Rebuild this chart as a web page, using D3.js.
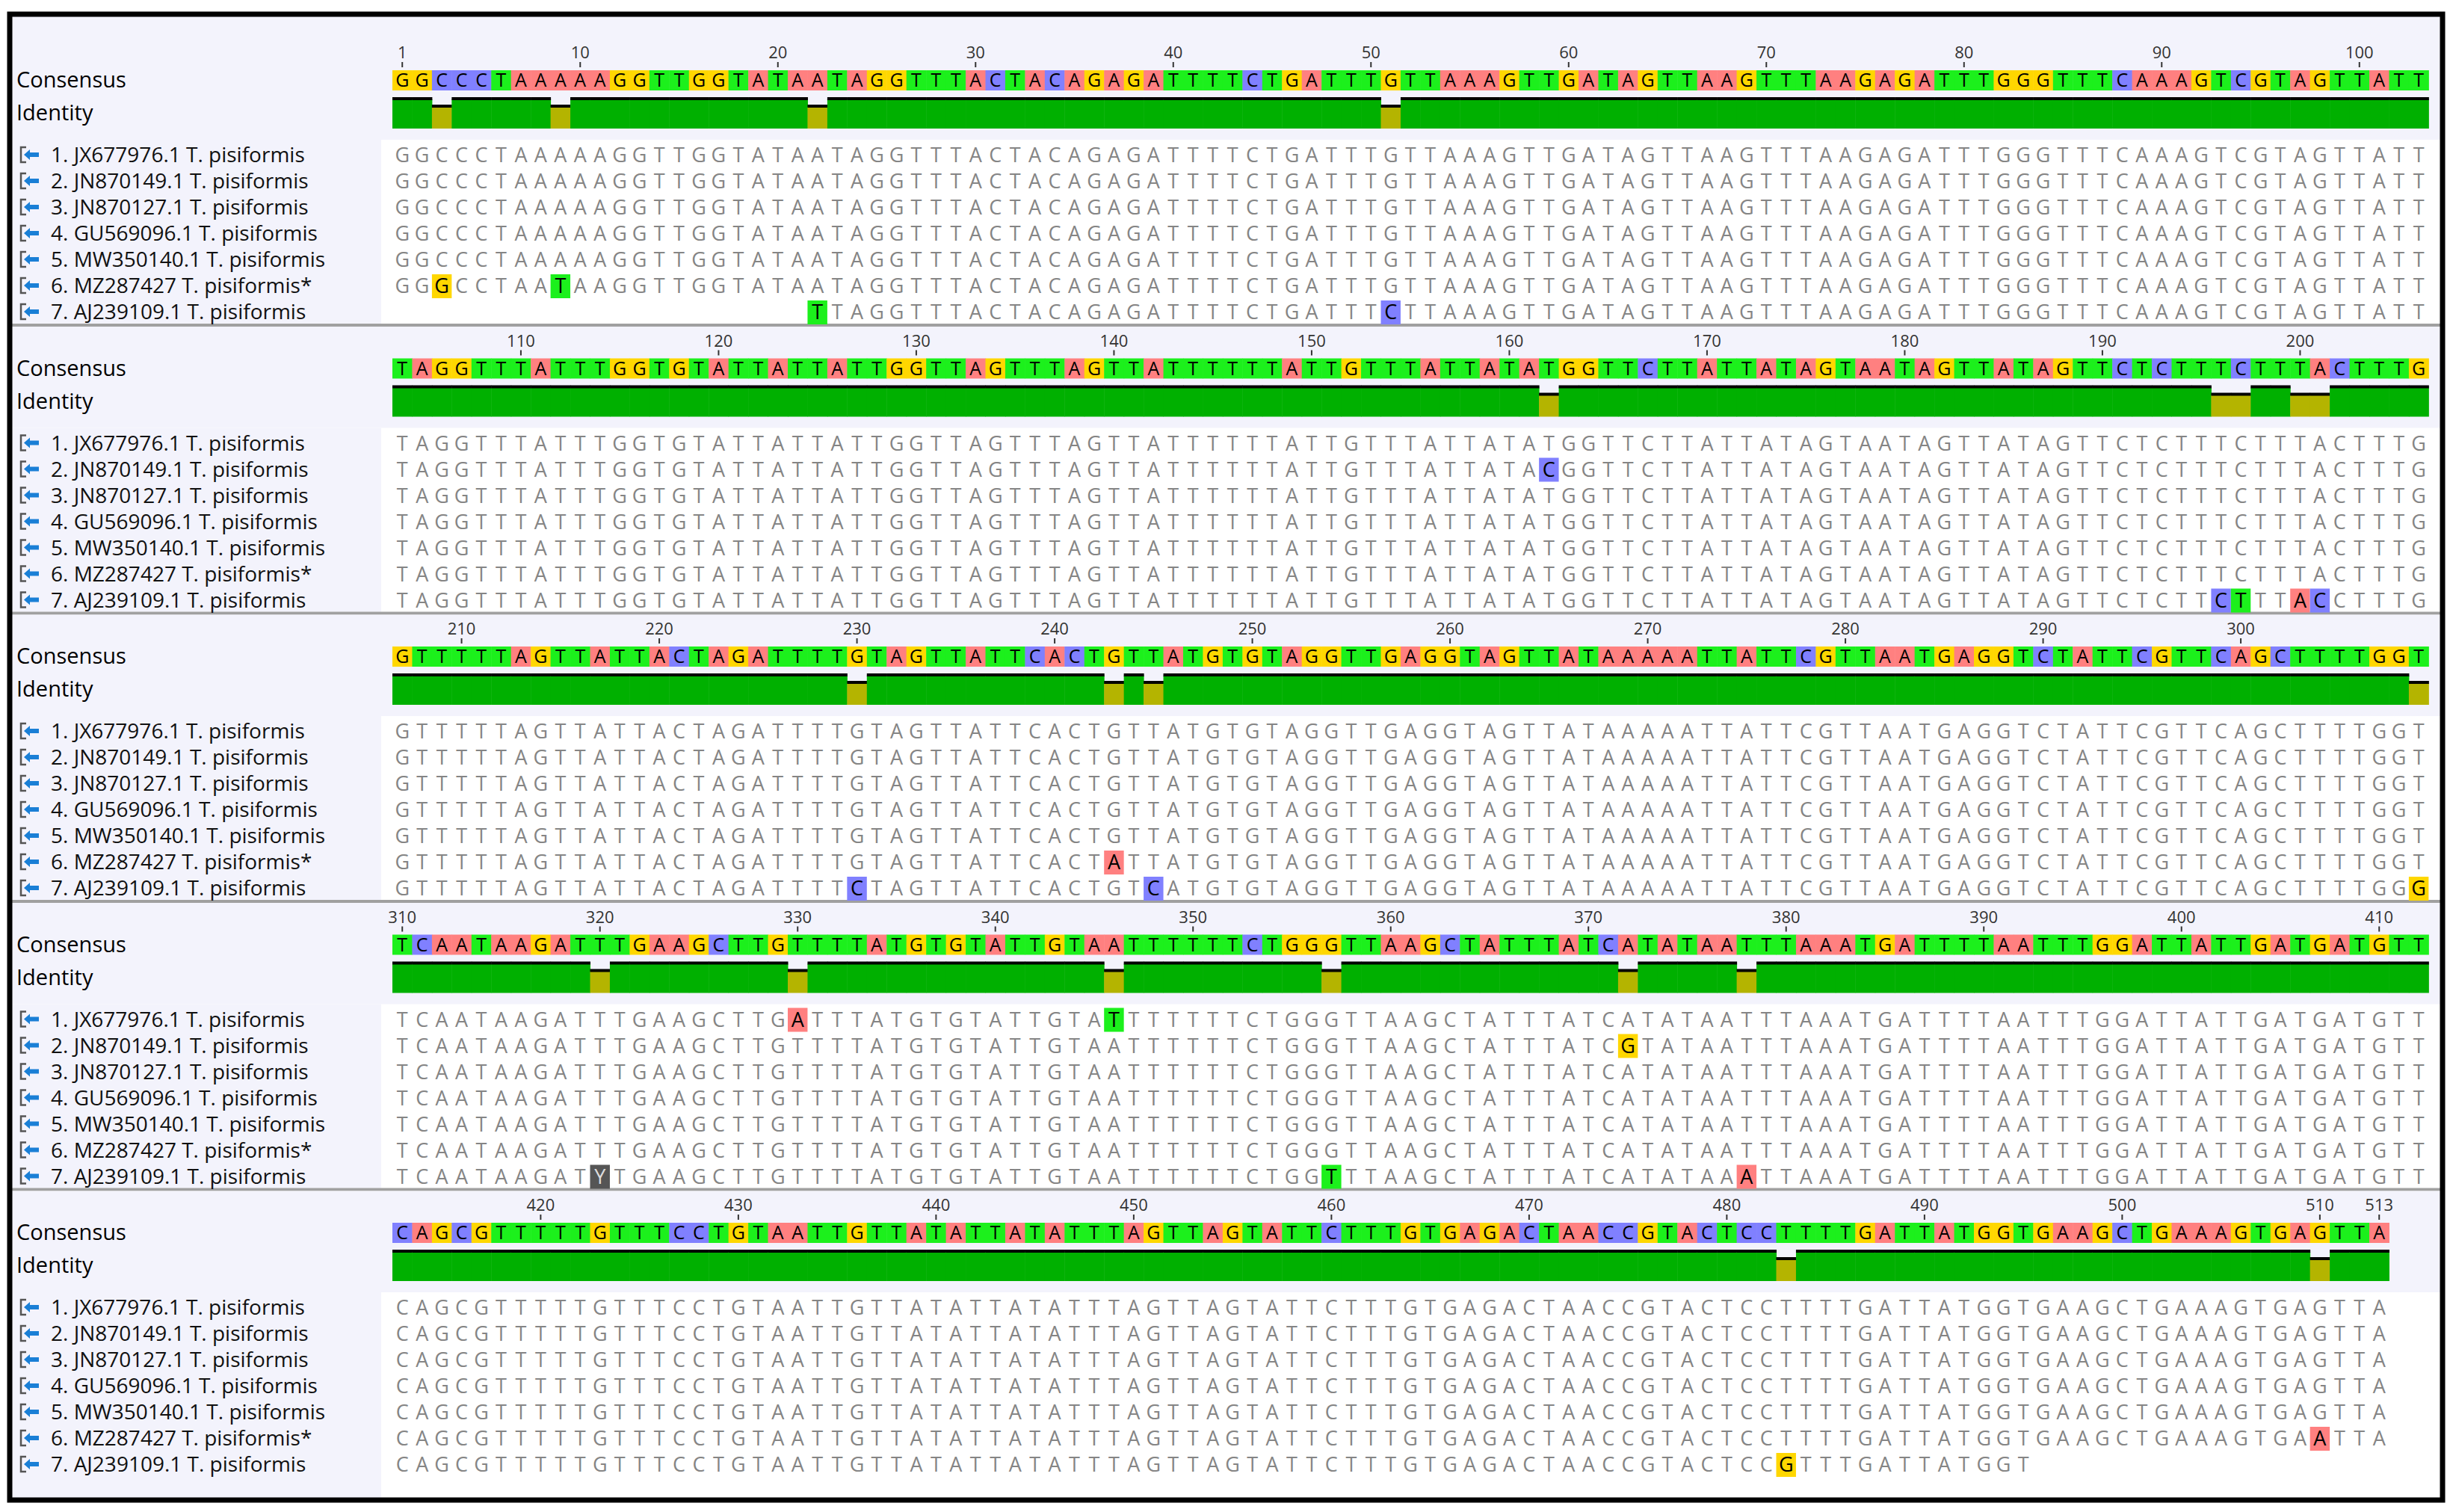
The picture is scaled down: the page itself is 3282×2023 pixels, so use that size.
<!DOCTYPE html>
<html><head><meta charset="utf-8">
<script src="https://cdn.jsdelivr.net/npm/d3@7"></script>
<style>body{margin:0;background:#fff}svg{display:block}</style>
</head><body>
<script>
// ---- data ----
const consensusRows = [
 "GGCCCTAAAAAGGTTGGTATAATAGGTTTACTACAGAGATTTTCTGATTTGTTAAAGTTGATAGTTAAGTTTAAGAGATTTGGGTTTCAAAGTCGTAGTTATT",
 "TAGGTTTATTTGGTGTATTATTATTGGTTAGTTTAGTTATTTTTTATTGTTTATTATATGGTTCTTATTATAGTAATAGTTATAGTTCTCTTTCTTTACTTTG",
 "GTTTTTAGTTATTACTAGATTTTGTAGTTATTCACTGTTATGTGTAGGTTGAGGTAGTTATAAAAATTATTCGTTAATGAGGTCTATTCGTTCAGCTTTTGGT",
 "TCAATAAGATTTGAAGCTTGTTTTATGTGTATTGTAATTTTTTCTGGGTTAAGCTATTTATCATATAATTTAAATGATTTTAATTTGGATTATTGATGATGTT",
 "CAGCGTTTTTGTTTCCTGTAATTGTTATATTATATTTAGTTAGTATTCTTTGTGAGACTAACCGTACTCCTTTTGATTATGGTGAAGCTGAAAGTGAGTTA"
];
const rowStarts = [1, 104, 207, 310, 413];
const seqNames = ["1. JX677976.1 T. pisiformis","2. JN870149.1 T. pisiformis","3. JN870127.1 T. pisiformis",
 "4. GU569096.1 T. pisiformis","5. MW350140.1 T. pisiformis","6. MZ287427 T. pisiformis*","7. AJ239109.1 T. pisiformis"];
const seqStart = [1,1,1,1,1,1,22];
const seqEnd = [513,513,513,513,513,513,495];
// variants: [sequence index, position, base]
const variants = [
 [5,3,"G"],[5,9,"T"],[6,22,"T"],[6,51,"C"],
 [1,162,"C"],[6,196,"C"],[6,197,"T"],[6,200,"A"],[6,201,"C"],
 [6,230,"C"],[5,243,"A"],[6,245,"C"],[6,309,"G"],
 [6,320,"Y"],[0,330,"A"],[0,346,"T"],[6,357,"T"],[1,372,"G"],[6,378,"A"],
 [6,483,"G"],[5,510,"A"]
];
const tickExtra = [1, 513];
// ---- styles ----
const baseColor = {A:"#ff8080",C:"#8080ff",G:"#ffd700",T:"#1cf01c",Y:"#555555"};
const W=3282,H=2023, x0=525, bw=26.45, pitch=385.5, perRow=103;
const svg=d3.select("body").append("svg").attr("width",W).attr("height",H);
svg.append("rect").attr("width",W).attr("height",H).attr("fill","#fff");
const font="'Open Sans', 'Noto Sans', sans-serif";
const consMap={};
consensusRows.forEach((r,k)=>{for(let i=0;i<r.length;i++)consMap[rowStarts[k]+i]=r[i];});
const varMap={}; variants.forEach(v=>{varMap[v[0]+"_"+v[1]]=v[2];});
const mism=new Set(variants.map(v=>v[1]));

const bg=svg.append("g");
consensusRows.forEach((row,k)=>{
  const oy=k*pitch;
  const top = k===0?22:437+(k-1)*pitch;
  bg.append("rect").attr("x",14).attr("y",top).attr("width",W-28).attr("height",187+oy-top).attr("fill","#f3f3fc");
  bg.append("rect").attr("x",14).attr("y",187+oy).attr("width",510-14).attr("height",(k<4?433+oy:2004)-(187+oy)).attr("fill","#f3f3fc");
  if(k<4) bg.append("rect").attr("x",14).attr("y",433+oy).attr("width",W-28).attr("height",4).attr("fill","#a0a0a0");
});

consensusRows.forEach((row,k)=>{
  const oy=k*pitch, start=rowStarts[k], end=start+row.length-1;
  const x=d3.scaleLinear().domain([start,start+perRow]).range([x0,x0+perRow*bw]);
  const g=svg.append("g");
  const ticks=d3.range(start,end+1).filter(p=>p%10===0||tickExtra.includes(p));
  ticks.forEach(p=>{
    const cx=x(p)+bw/2;
    g.append("line").attr("x1",cx).attr("x2",cx).attr("y1",83+oy).attr("y2",90+oy).attr("stroke","#333").attr("stroke-width",2);
    g.append("text").attr("x",cx).attr("y",78+oy).attr("text-anchor","middle").attr("font-family",font)
     .attr("font-size",22).attr("fill","#333").text(p);
  });
  for(let p=start;p<=end;p++){
    const b=consMap[p];
    g.append("rect").attr("x",x(p)).attr("y",94+oy).attr("width",bw+0.5).attr("height",27).attr("fill",baseColor[b]);
    g.append("text").attr("x",x(p)+bw/2).attr("y",116+oy).attr("text-anchor","middle").attr("font-family",font)
     .attr("font-size",25).attr("fill","#000").text(b);
  }
  for(let p=start;p<=end;p++){
    const m=mism.has(p), yt=(m?143:133)+oy;
    g.append("rect").attr("x",x(p)).attr("y",yt).attr("width",bw+0.5).attr("height",172+oy-yt).attr("fill",m?"#b4b400":"#00b000");
    g.append("rect").attr("x",x(p)).attr("y",yt-3).attr("width",bw+0.5).attr("height",4).attr("fill","#000");
  }
  g.append("text").attr("x",22).attr("y",117+oy).attr("font-family",font).attr("font-size",29).attr("fill","#000").text("Consensus");
  g.append("text").attr("x",22).attr("y",161+oy).attr("font-family",font).attr("font-size",29).attr("fill","#000").text("Identity");
  seqNames.forEach((nm,i)=>{
    const cy=207+35*i+oy;
    const ic=g.append("g").attr("transform",`translate(26,${cy-12})`);
    ic.append("path").attr("d","M9,2 H2 V22 H9").attr("fill","none").attr("stroke","#555").attr("stroke-width",2.5);
    ic.append("path").attr("d","M6,12 L14,5 V9 H26 V15 H14 V19 Z").attr("fill","#1a7fd6");
    g.append("text").attr("x",68).attr("y",cy+10).attr("font-family",font).attr("font-size",28).attr("fill","#111").text(nm);
    for(let p=Math.max(start,seqStart[i]);p<=Math.min(end,seqEnd[i]);p++){
      const v=varMap[i+"_"+p];
      const b=v||consMap[p];
      if(v) g.append("rect").attr("x",x(p)).attr("y",cy-15).attr("width",bw).attr("height",32).attr("fill",baseColor[v]);
      g.append("text").attr("x",x(p)+bw/2).attr("y",cy+10).attr("text-anchor","middle").attr("font-family",font)
       .attr("font-size",27).attr("fill",v?(v==="Y"?"#ddd":"#000"):"#858585").text(b);
    }
  });
});
svg.append("rect").attr("x",13).attr("y",19).attr("width",W-27).attr("height",1988).attr("fill","none").attr("stroke","#000").attr("stroke-width",7);
</script>
</body></html>
